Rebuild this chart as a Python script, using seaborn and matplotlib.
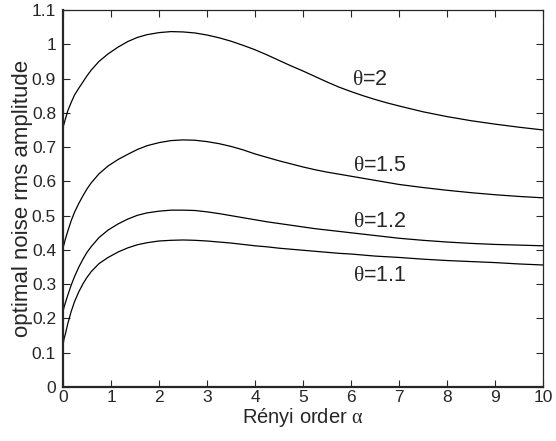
import numpy as np
import pandas as pd
import matplotlib
matplotlib.use("Agg")
import matplotlib.pyplot as plt
import seaborn as sns

# ---- data ----
alpha = [0, 0.02, 0.05, 0.1, 0.17, 0.24, 0.33, 0.42, 0.5, 0.59, 0.75, 0.94, 1.15,
         1.35, 1.55, 1.75, 2.0, 2.25, 2.5, 2.75, 3.0, 3.25, 3.5, 3.75, 4.0, 4.25,
         4.5, 4.75, 5.0, 5.25, 5.5, 5.75, 6.0, 6.25, 6.5, 6.75, 7.0, 7.5, 8.0,
         8.5, 9.0, 9.5, 10]

theta_2 = [0.757, 0.767, 0.782, 0.806, 0.830, 0.852, 0.872, 0.891, 0.908, 0.925,
           0.950, 0.972, 0.992, 1.008, 1.020, 1.028, 1.034, 1.037, 1.036, 1.033,
           1.027, 1.019, 1.009, 0.997, 0.984, 0.969, 0.953, 0.937, 0.922, 0.906,
           0.890, 0.875, 0.862, 0.850, 0.839, 0.829, 0.820, 0.803, 0.789, 0.777,
           0.767, 0.758, 0.750]
theta_15 = [0.405, 0.416, 0.432, 0.455, 0.485, 0.510, 0.536, 0.559, 0.578, 0.596,
            0.622, 0.645, 0.664, 0.679, 0.693, 0.704, 0.713, 0.719, 0.721, 0.720,
            0.716, 0.710, 0.702, 0.692, 0.680, 0.670, 0.660, 0.651, 0.642, 0.634,
            0.627, 0.621, 0.615, 0.609, 0.603, 0.597, 0.591, 0.582, 0.574, 0.567,
            0.561, 0.556, 0.552]
theta_12 = [0.220, 0.232, 0.246, 0.268, 0.297, 0.322, 0.350, 0.374, 0.393, 0.410,
            0.436, 0.458, 0.476, 0.490, 0.501, 0.508, 0.513, 0.516, 0.516, 0.515,
            0.511, 0.506, 0.500, 0.494, 0.488, 0.482, 0.477, 0.472, 0.467, 0.462,
            0.458, 0.454, 0.450, 0.446, 0.442, 0.438, 0.434, 0.428, 0.423, 0.419,
            0.416, 0.414, 0.412]
theta_11 = [0.120, 0.140, 0.155, 0.185, 0.220, 0.249, 0.278, 0.302, 0.320, 0.337,
            0.360, 0.378, 0.394, 0.406, 0.415, 0.421, 0.426, 0.428, 0.429, 0.428,
            0.426, 0.423, 0.420, 0.416, 0.412, 0.409, 0.405, 0.402, 0.399, 0.396,
            0.393, 0.390, 0.388, 0.385, 0.382, 0.380, 0.378, 0.373, 0.369, 0.366,
            0.363, 0.359, 0.356]

series_names = ["2", "1.5", "1.2", "1.1"]
series_values = [theta_2, theta_15, theta_12, theta_11]
label_x = [6.4, 6.6, 6.6, 6.6]
label_y = [0.896, 0.645, 0.482, 0.324]

x_ticks = list(range(0, 11))
y_ticks = [0, 0.1, 0.2, 0.3, 0.4, 0.5, 0.6, 0.7, 0.8, 0.9, 1.0, 1.1]
y_tick_labels = ["0", "0.1", "0.2", "0.3", "0.4", "0.5", "0.6", "0.7", "0.8", "0.9", "1", "1.1"]

# ---- build long table ----
frames = []
for name, vals in zip(series_names, series_values):
    frames.append(pd.DataFrame({"alpha": alpha, "amp": vals, "theta": name}))
df = pd.concat(frames, ignore_index=True)

sns.set_style("ticks")
plt.rcParams["font.family"] = ["Liberation Sans", "DejaVu Sans"]
plt.rcParams["mathtext.fontset"] = "custom"
plt.rcParams["mathtext.rm"] = "Liberation Serif"
plt.rcParams["mathtext.it"] = "Liberation Serif"

fig = plt.figure(figsize=(5.56, 4.41), dpi=100)
ax = fig.add_axes([63 / 556, 1 - 387 / 441, 480 / 556, 377 / 441])

sns.lineplot(data=df, x="alpha", y="amp", hue="theta",
             palette=["black"] * 4, legend=False, linewidth=0.9, ax=ax,
             estimator=None, sort=True)

ax.set_xlim(0, 10)
ax.set_ylim(0, 1.1)
ax.set_xticks(x_ticks)
ax.set_xticklabels([str(t) for t in x_ticks])
ax.set_yticks(y_ticks)
ax.set_yticklabels(y_tick_labels)
ax.tick_params(direction="in", top=True, right=True, length=5, width=0.8,
               labelsize=12.5)
ax.tick_params(axis="x", pad=2)
ax.tick_params(axis="y", pad=5)

for side in ["left", "bottom"]:
    ax.spines[side].set_linewidth(1.6)
for side in ["top", "right"]:
    ax.spines[side].set_linewidth(0.9)

ax.set_xlabel(r"Rényi order $\alpha$", fontsize=14.5, labelpad=1)
ax.set_ylabel("optimal noise rms amplitude", fontsize=16, labelpad=-1)

for name, lx, ly in zip(series_names, label_x, label_y):
    ax.text(lx, ly, r"$\theta$=" + name, fontsize=15.5, ha="center", va="center")

fig.savefig("out.png", dpi=100)
